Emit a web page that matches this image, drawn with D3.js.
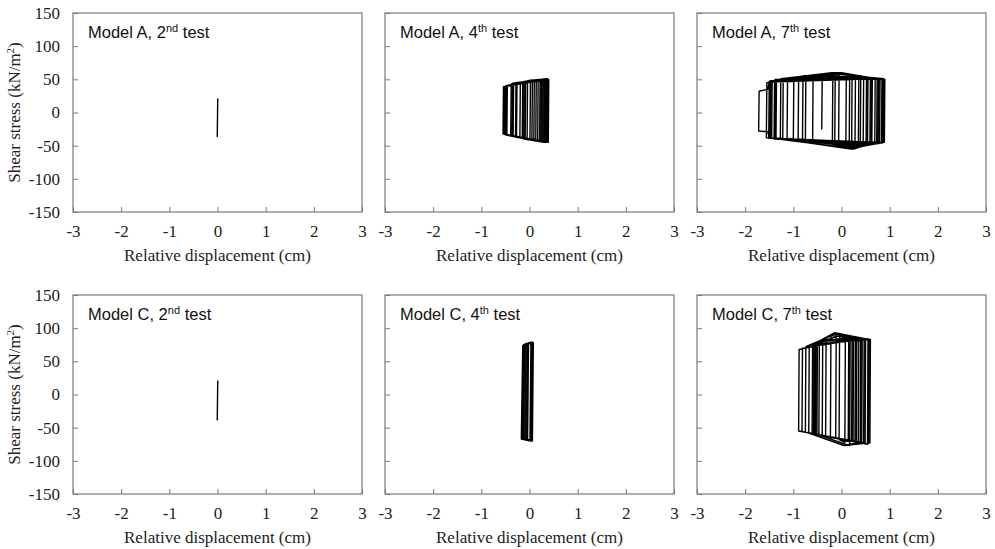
<!DOCTYPE html>
<html lang="en">
<head>
<meta charset="UTF-8" />
<title>Shear stress vs relative displacement</title>
<script src="https://d3js.org/d3.v7.min.js"></script>
<style>
  body { margin: 0; background: #fff; }
  svg { display: block; }
  .tick text { font-family: "Liberation Serif", "Times New Roman", serif; font-size: 17px; fill: #222; }
  .axis-title { font-family: "Liberation Serif", "Times New Roman", serif; font-size: 17px; fill: #222; }
  .panel-title { font-family: "Liberation Sans", Arial, sans-serif; font-size: 16.5px; fill: #111; }
</style>
</head>
<body>
<svg id="canvas"></svg>
<script>
// tick values
let xTicks = [-3, -2, -1, 0, 1, 2, 3];
let yTicks = [-150, -100, -50, 0, 50, 100, 150];

// panel labels
let models = ["A", "C"];
let testNums = ["2", "4", "7"];
let testSuffix = ["nd", "th", "th"];

// loops: [displacement cm, shear stress kN/m2]
let a2Loop = [[0.005, 21], [-0.005, -37]];

let a4Loop = [
  [0.01, 47], [0.02, 48], [0.01, -41],
  [-0.05, -41], [-0.04, 48], [0.06, 49], [0.05, -42],
  [-0.09, -40], [-0.08, 47], [0.10, 49], [0.09, -42],
  [-0.12, -40], [-0.11, 47], [0.14, 49], [0.13, -43],
  [-0.15, -39], [-0.14, 46], [0.18, 50], [0.17, -43],
  [-0.27, -37], [-0.26, 45], [0.22, 50], [0.21, -44],
  [-0.29, -37], [-0.28, 45], [0.25, 50], [0.24, -44],
  [-0.34, -36], [-0.33, 44], [0.28, 50], [0.27, -44],
  [-0.36, -36], [-0.35, 44], [0.31, 50], [0.30, -45],
  [-0.39, -35], [-0.38, 43], [0.34, 51], [0.33, -45],
  [-0.47, -34], [-0.46, 41], [0.37, 51], [0.36, -45],
  [-0.49, -34], [-0.48, 40], [0.40, 50], [0.39, -45],
  [-0.51, -33], [-0.50, 40], [0.39, 50], [0.38, -44],
  [-0.53, -33], [-0.52, 39], [0.36, 50], [0.35, -44],
  [-0.55, -32], [-0.54, 39], [0.32, 50], [0.31, -44],
  [-0.20, -38], [-0.19, 46]
];

let a7Loop = [
  [0.01, 59], [0.17, 58], [0.16, -53],
  [-0.19, -48], [-0.18, 59], [0.29, 56], [0.28, -52],
  [-0.60, -44], [-0.59, 56], [-0.10, 60], [0.46, 54], [0.45, -50],
  [-0.81, -42], [-0.80, 55], [0.63, 52], [0.62, -48], [0.20, -55],
  [-1.13, -41], [-1.12, 52], [-0.20, 60], [0.77, 51], [0.76, -47],
  [-1.36, -40], [-1.35, 50], [0.90, 50], [0.89, -45], [0.20, -54],
  [-1.50, -38], [-1.53, -29], [-1.72, -28], [-1.71, 32], [-1.53, 35], [-1.50, 46],
  [0.84, 51], [0.83, -46],
  [-1.56, -38], [-1.55, 45], [-0.30, 59], [0.88, 51], [0.87, -45],
  [-1.51, -39], [-1.50, 47], [0.80, 51], [0.79, -46], [0.10, -53],
  [-1.45, -39], [-1.44, 48], [-0.40, 58], [-0.41, -25], [-0.40, 56],
  [0.74, 52], [0.73, -47],
  [-1.40, -40], [-1.39, 49], [0.70, 52], [0.69, -47],
  [-1.27, -40], [-1.26, 51], [0.00, 60], [0.64, 52], [0.63, -48],
  [-1.22, -41], [-1.21, 51], [0.55, 53], [0.54, -49],
  [-0.75, -43], [-0.74, 55], [0.52, 53], [0.51, -49], [0.25, -55],
  [-1.00, -42], [-0.99, 53], [0.36, 55], [0.35, -51],
  [-0.14, -48], [-0.13, 59], [0.22, 57], [0.21, -54],
  [-0.06, -49], [-0.05, 60], [0.60, 52], [0.59, -48],
  [-1.38, -40], [-1.37, 50], [0.86, 51], [0.85, -46],
  [-1.48, -39], [-1.47, 48], [0.40, 55], [0.39, -51],
  [-0.90, -42], [-0.89, 54], [0.10, 58], [0.09, -52]
];

let c2Loop = [[0.005, 21], [-0.005, -39]];

let c4Loop = [
  [0.01, 78], [0.05, 79], [0.04, -70],
  [-0.04, -69], [-0.02, 78], [0.08, 78], [0.06, -70],
  [-0.10, -68], [-0.07, 77], [0.07, 78], [0.05, -70],
  [-0.13, -68], [-0.10, 76], [0.03, 79], [0.01, -70],
  [-0.17, -67], [-0.14, 74], [0.08, 78], [0.06, -69],
  [-0.15, -67], [-0.12, 75], [0.06, 79], [0.04, -70],
  [-0.07, -69], [-0.04, 77], [0.02, 78]
];

let c7Loop = [
  [0.01, 90], [0.08, 88], [0.07, -72],
  [-0.05, -68], [-0.04, 92], [0.15, 87], [0.14, -71],
  [-0.12, -66], [-0.11, 91], [0.22, 86], [0.21, -70],
  [-0.23, -65], [-0.22, 89], [0.29, 85], [0.28, -70],
  [-0.33, -63], [-0.32, 86], [-0.10, 92], [0.36, 85], [0.35, -71],
  [-0.40, -62], [-0.39, 83], [0.43, 84], [0.42, -72], [0.10, -76],
  [-0.47, -61], [-0.46, 80], [0.50, 84], [0.49, -73],
  [-0.54, -60], [-0.53, 78], [-0.15, 93], [0.57, 83], [0.56, -74],
  [-0.61, -59], [-0.60, 76], [0.60, 83], [0.59, -73], [0.05, -77],
  [-0.68, -58], [-0.67, 74], [0.55, 84], [0.54, -75],
  [-0.75, -57], [-0.74, 72], [-0.10, 92], [0.47, 84], [0.46, -74],
  [-0.82, -56], [-0.81, 70], [0.40, 84], [0.39, -72],
  [-0.89, -55], [-0.88, 68], [0.32, 85], [0.31, -71],
  [-0.58, -59], [-0.57, 77], [0.18, 87], [0.17, -77],
  [-0.51, -60], [-0.50, 79], [0.25, 86], [0.24, -70],
  [-0.56, -60], [-0.55, 77], [0.01, 90]
];

let loops = [[a2Loop, a4Loop, a7Loop], [c2Loop, c4Loop, c7Loop]];

// layout
let width = 995;
let height = 549;
let panelLeft = [73, 385, 697];
let rowTop = [13, 295];
let pw = 289;
let ph = 199;

let svg = d3.select("#canvas").attr("width", width).attr("height", height);

let x = d3.scaleLinear().domain([-3, 3]).range([0, pw]);
let y = d3.scaleLinear().domain([-150, 150]).range([ph, 0]);

let line = d3.line()
  .x((d) => x(d[0]))
  .y((d) => y(d[1]));

models.forEach((model, r) => {
  testNums.forEach((num, c) => {
    let g = svg.append("g")
      .attr("transform", "translate(" + panelLeft[c] + "," + rowTop[r] + ")");

    let xAxis = d3.axisBottom(x)
      .tickValues(xTicks)
      .tickSizeInner(-5)
      .tickSizeOuter(0)
      .tickPadding(13)
      .tickFormat((d) => String(d));

    let yAxis = d3.axisLeft(y)
      .tickValues(yTicks)
      .tickSizeInner(-5)
      .tickSizeOuter(0)
      .tickPadding(13)
      .tickFormat((d) => (c === 0 ? String(d) : ""));

    let gx = g.append("g").attr("transform", "translate(0," + ph + ")").call(xAxis);
    let gy = g.append("g").call(yAxis);
    [gx, gy].forEach((a) => {
      a.select(".domain").remove();
      a.selectAll(".tick line").attr("stroke", "#7a7a7a");
    });

    g.append("rect")
      .attr("x", 0).attr("y", 0)
      .attr("width", pw).attr("height", ph)
      .attr("fill", "none")
      .attr("stroke", "#7a7a7a")
      .attr("stroke-width", 1.2);

    g.append("path")
      .datum(loops[r][c])
      .attr("d", line)
      .attr("fill", "none")
      .attr("stroke", "#000")
      .attr("stroke-width", 1.4)
      .attr("stroke-linejoin", "round");

    let t = g.append("text")
      .attr("class", "panel-title")
      .attr("x", 15)
      .attr("y", 25);
    t.append("tspan").text("Model " + model + ", " + num);
    t.append("tspan").attr("font-size", "11px").attr("dy", -6).text(testSuffix[c]);
    t.append("tspan").attr("dy", 6).text(" test");

    g.append("text")
      .attr("class", "axis-title")
      .attr("x", pw / 2)
      .attr("y", ph + 49)
      .attr("text-anchor", "middle")
      .text("Relative displacement (cm)");

    if (c === 0) {
      let yt = g.append("text")
        .attr("class", "axis-title")
        .attr("transform", "translate(" + (20 - panelLeft[0]) + "," + ph / 2 + ") rotate(-90)")
        .attr("text-anchor", "middle");
      yt.append("tspan").text("Shear stress (kN/m");
      yt.append("tspan").attr("font-size", "11px").attr("dy", -6).text("2");
      yt.append("tspan").attr("dy", 6).text(")");
    }
  });
});
</script>
</body>
</html>
